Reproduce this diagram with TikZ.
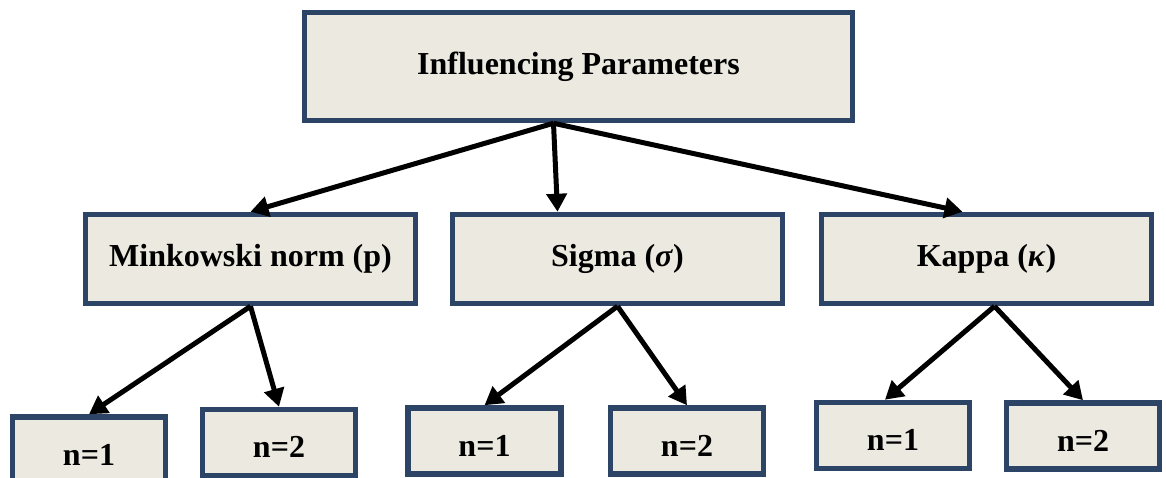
\documentclass[tikz,border=0pt]{standalone}
\usepackage{fontspec}
\setmainfont{Liberation Serif}
\usetikzlibrary{arrows.meta, positioning}
\definecolor{framecol}{HTML}{2C4466}
\definecolor{boxcol}{HTML}{ECEAE0}

\begin{document}
\begin{tikzpicture}[x=1pt, y=-1pt,
  box/.style={draw=framecol, fill=boxcol, line width=5.5pt, inner sep=0pt, font=\bfseries\fontsize{32}{38}\selectfont},
  mainbox/.style={box, minimum width=548pt, minimum height=108pt},
  parbox/.style={box, minimum width=330pt, minimum height=89pt},
  leafbox/.style={box, minimum width=153pt, minimum height=66pt, text height=30pt, text depth=0pt},
  arr/.style={line width=5pt, -{Triangle[length=18pt, width=20pt]}}]
  \useasboundingbox (0,0) rectangle (1166,478);

  % Root
  \node[mainbox] (root) at (578.5,66.5) {Influencing Parameters};

  % Parameters
  \node[parbox] (mink) at (250.5,259) {Minkowski norm (p)};
  \node[parbox] (sigma) at (617.5,259) {Sigma (\textit{σ})};
  \node[parbox] (kappa) at (986.5,259) {Kappa (\textit{κ})};

  % Values of n
  \node[leafbox] (minkA) at (89,450) {n=1};
  \node[leafbox] (minkB) at (279,442.5) {n=2};
  \node[leafbox] (sigmaA) at (484.5,441) {n=1};
  \node[leafbox] (sigmaB) at (687,441) {n=2};
  \node[leafbox] (kappaA) at (893,435.5) {n=1};
  \node[leafbox] (kappaB) at (1083,436) {n=2};

  % Root to parameters
  \draw[arr] ([xshift=-25pt]root.south) -- (mink.north);
  \draw[arr] ([xshift=-25pt]root.south) -- ([xshift=-60pt]sigma.north);
  \draw[arr] ([xshift=-25pt]root.south) -- ([xshift=-24pt]kappa.north);

  % Parameters to values
  \draw[arr] (mink.south) -- (minkA.north);
  \draw[arr] (mink.south) -- (minkB.north);
  \draw[arr] (sigma.south) -- (sigmaA.north);
  \draw[arr] (sigma.south) -- (sigmaB.north);
  \draw[arr] ([xshift=8pt]kappa.south) -- ([xshift=-8pt]kappaA.north);
  \draw[arr] ([xshift=8pt]kappa.south) -- (kappaB.north);
\end{tikzpicture}
\end{document}
